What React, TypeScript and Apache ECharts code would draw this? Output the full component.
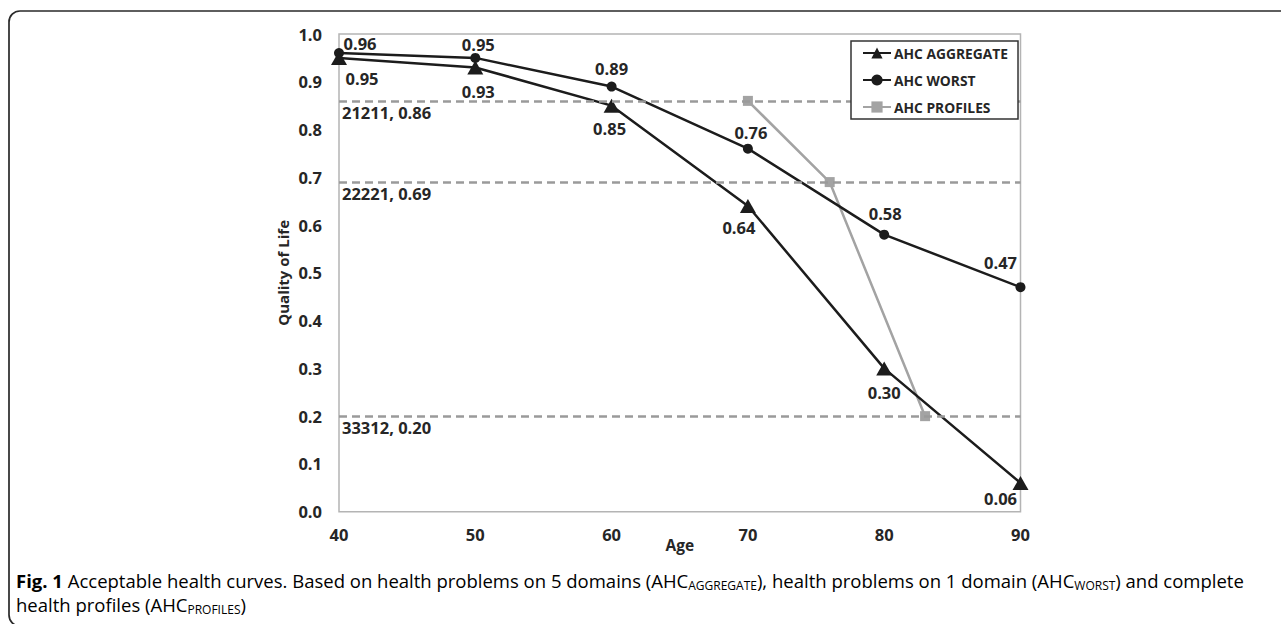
import React, { useEffect, useRef } from "react";
import * as echarts from "echarts";

const ages = [40, 50, 60, 70, 80, 90];
const aggregateValues = [0.95, 0.93, 0.85, 0.64, 0.30, 0.06];
const worstValues = [0.96, 0.95, 0.89, 0.76, 0.58, 0.47];
const profileAges = [70, 76, 83];
const profileValues = [0.86, 0.69, 0.20];
const refCodes = ["21211", "22221", "33312"];
const refValues = [0.86, 0.69, 0.20];
const seriesNames = ["AHC AGGREGATE", "AHC WORST", "AHC PROFILES"];

// label offsets (layout only)
const aggLabelOffsets = [[23, 21], [3, 24], [-2, 23], [-9, 22], [0, 24], [-20, 15]];
const worstLabelOffsets = [[21, -10], [3, -13], [0, -18], [3, -16], [1, -21], [-20, -25]];

const FONT = "'Open Sans', 'Noto Sans', sans-serif";
const LABEL_COLOR = "#262626";
const LABEL_SIZE = 16.5;

export default function App() {
  const ref = useRef<HTMLDivElement>(null);
  useEffect(() => {
    if (!ref.current) return;
    const chart = echarts.init(ref.current, null, { renderer: "svg" });
    const labelStyle = {
      show: true,
      position: "inside",
      fontFamily: FONT,
      fontWeight: "bold",
      fontSize: LABEL_SIZE,
      color: LABEL_COLOR,
      formatter: (p: any) => p.value[1].toFixed(2),
    };
    const aggData = ages.map((a, i) => ({
      value: [a, aggregateValues[i]],
      label: { ...labelStyle, offset: aggLabelOffsets[i] },
    }));
    const worstData = ages.map((a, i) => ({
      value: [a, worstValues[i]],
      label: { ...labelStyle, offset: worstLabelOffsets[i] },
    }));
    const profData = profileAges.map((a, i) => [a, profileValues[i]]);

    const caption =
      "{b|Fig. 1}{n| Acceptable health curves. Based on health problems on 5 domains (AHC}{s|AGGREGATE}{n|), health problems on 1 domain (AHC}{s|WORST}{n|) and complete}\n" +
      "{n|health profiles (AHC}{s|PROFILES}{n|)}";

    chart.setOption({
      animation: false,
      backgroundColor: "#ffffff",
      textStyle: { fontFamily: FONT },
      grid: {
        left: 339,
        right: 260.5,
        top: 34,
        bottom: 112.3,
        show: true,
        borderColor: "#b4b4b4",
        borderWidth: 1.5,
        containLabel: false,
      },
      legend: {
        orient: "vertical",
        left: 851,
        top: 41,
        padding: [5, 10, 5, 11],
        itemGap: 13,
        itemWidth: 28,
        itemHeight: 14,
        backgroundColor: "#ffffff",
        borderColor: "#333333",
        borderWidth: 1.5,
        borderRadius: 0,
        textStyle: { fontFamily: FONT, fontWeight: "bold", fontSize: 13.8, color: LABEL_COLOR, padding: [0, 0, 0, -2] },
        data: seriesNames,
        z: 10,
      },
      xAxis: {
        type: "value",
        min: 40,
        max: 90,
        interval: 10,
        name: "Age",
        nameLocation: "middle",
        nameGap: 25,
        nameMoveOverlap: false,
        nameTextStyle: { fontFamily: FONT, fontWeight: "bold", fontSize: 15.5, color: LABEL_COLOR },
        axisLine: { show: false },
        axisTick: { show: false },
        splitLine: { show: false },
        axisLabel: { margin: 14, fontFamily: FONT, fontWeight: "bold", fontSize: LABEL_SIZE, color: LABEL_COLOR },
      },
      yAxis: {
        type: "value",
        min: 0,
        max: 1,
        interval: 0.1,
        name: "Quality of Life",
        nameLocation: "middle",
        nameGap: 49,
        nameMoveOverlap: false,
        nameTextStyle: { fontFamily: FONT, fontWeight: "bold", fontSize: 15, color: LABEL_COLOR },
        axisLine: { show: false },
        axisTick: { show: false },
        splitLine: { show: false },
        axisLabel: {
          margin: 17,
          fontFamily: FONT,
          fontWeight: "bold",
          fontSize: LABEL_SIZE,
          color: LABEL_COLOR,
          formatter: (v: number) => v.toFixed(1),
        },
      },
      series: [
        {
          name: "__ref",
          type: "line",
          data: [],
          silent: true,
          markLine: {
            silent: true,
            symbol: "none",
            lineStyle: { color: "#9a9a9a", width: 2.5, type: [8, 5] },
            label: {
              show: true,
              position: "insideStartBottom",
              distance: [3, 3],
              fontFamily: FONT,
              fontWeight: "bold",
              fontSize: LABEL_SIZE,
              color: LABEL_COLOR,
            },
            data: refValues.map((v, i) => ({
              yAxis: v,
              label: { formatter: `${refCodes[i]}, ${v.toFixed(2)}` },
            })),
          },
          z: 1,
        },
        {
          name: seriesNames[2],
          type: "line",
          data: profData,
          symbol: "rect",
          symbolSize: 10,
          lineStyle: { color: "#a3a3a3", width: 2.5 },
          itemStyle: { color: "#a3a3a3" },
          z: 3,
        },
        {
          name: seriesNames[0],
          type: "line",
          data: aggData,
          symbol: "triangle",
          symbolSize: [16, 14],
          lineStyle: { color: "#1c1c1c", width: 2.5 },
          itemStyle: { color: "#1c1c1c" },
          z: 4,
        },
        {
          name: seriesNames[1],
          type: "line",
          data: worstData,
          symbol: "circle",
          symbolSize: 10,
          lineStyle: { color: "#1c1c1c", width: 2.5 },
          itemStyle: { color: "#1c1c1c" },
          z: 4,
        },
      ],
      graphic: [
        {
          type: "rect",
          shape: { x: 9, y: 11, width: 1400, height: 615, r: 11 },
          style: { fill: "none", stroke: "#2a2a2a", lineWidth: 1.7 },
          silent: true,
        },
        {
          type: "text",
          left: 16,
          top: 571,
          style: {
            text: caption,
            rich: {
              b: { fontFamily: FONT, fontWeight: "bold", fontSize: 18.5, color: "#1a1a1a", lineHeight: 24 },
              n: { fontFamily: FONT, fontSize: 18.5, color: "#3a3a3a", lineHeight: 24 },
              s: { fontFamily: FONT, fontSize: 12, color: "#3a3a3a", lineHeight: 24, verticalAlign: "bottom", padding: [0, 0, 1, 0] },
            },
          },
        },
      ],
    });
    return () => chart.dispose();
  }, []);
  return (
    <div
      ref={ref}
      style={{ position: "fixed", left: 0, top: 0, width: 1281, height: 624 }}
    />
  );
}
